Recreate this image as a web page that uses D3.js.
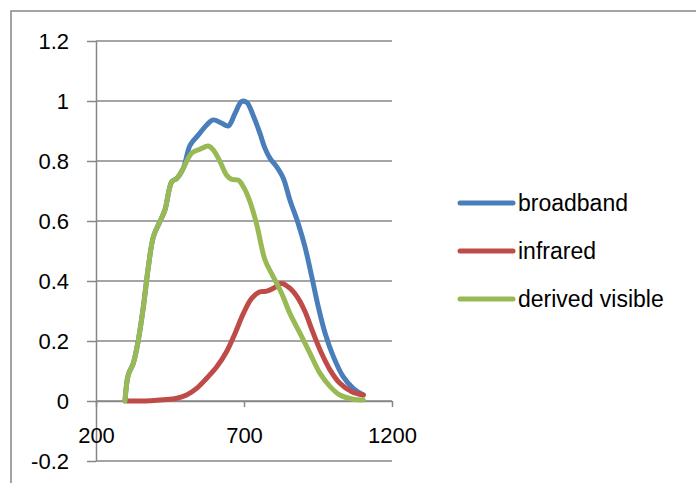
<!doctype html>
<html>

<head>
  <meta charset="utf-8">
  <title>Broadband / Infrared</title>
  <script src="https://d3js.org/d3.v7.min.js"></script>
  <style>
    body {
      margin: 0;
      background: white;
    }

    text {
      font-family: 'Liberation Sans', Arial, sans-serif;
      font-size: 22px;
      fill: black;
    }
  </style>
</head>

<body>
  <svg width="696" height="483"></svg>
  <script>
    var seriesNames = ["broadband", "infrared", "derived visible"];
    var seriesColors = ["#4a7ebb", "#be4b48", "#98b954"];

    var xTicks = [200, 700, 1200];
    var yTicks = [-0.2, 0, 0.2, 0.4, 0.6, 0.8, 1, 1.2];

    // wavelength, value
    var broadband = [
      [298, 0], [309, 0.087], [326, 0.126], [343, 0.203], [360, 0.314], [377, 0.448],
      [394, 0.548], [416, 0.598], [433, 0.637], [456, 0.731], [473, 0.742], [495, 0.776],
      [518, 0.853], [546, 0.887], [574, 0.92], [596, 0.937], [625, 0.926], [647, 0.917],
      [670, 0.959], [692, 0.998], [709, 0.996], [731, 0.952], [754, 0.892], [771, 0.842],
      [788, 0.809], [810, 0.781], [833, 0.742], [855, 0.67], [883, 0.592], [906, 0.514],
      [929, 0.414], [951, 0.314], [974, 0.226], [1002, 0.148], [1035, 0.081], [1069, 0.042],
      [1103, 0.02]
    ];

    var infrared = [
      [305, 0], [382, 0.001], [473, 0.009], [506, 0.02], [540, 0.042], [574, 0.076],
      [608, 0.114], [641, 0.164], [670, 0.226], [698, 0.292], [726, 0.342], [754, 0.364],
      [777, 0.366], [799, 0.376], [827, 0.392], [855, 0.376], [883, 0.342], [906, 0.298],
      [934, 0.226], [962, 0.159], [991, 0.103], [1024, 0.059], [1064, 0.031], [1103, 0.02]
    ];

    var derivedVisible = [
      [298, 0], [309, 0.087], [326, 0.126], [343, 0.203], [360, 0.314], [377, 0.448],
      [394, 0.548], [416, 0.598], [433, 0.637], [456, 0.731], [473, 0.742], [495, 0.776],
      [523, 0.826], [551, 0.839], [579, 0.85], [596, 0.837], [619, 0.798], [641, 0.753],
      [658, 0.739], [681, 0.736], [698, 0.714], [720, 0.665], [743, 0.588], [771, 0.47],
      [799, 0.414], [827, 0.359], [855, 0.292], [889, 0.226], [923, 0.159], [957, 0.092],
      [991, 0.048], [1024, 0.02], [1069, 0.006], [1103, 0.003]
    ];

    var allSeries = [broadband, infrared, derivedVisible];

    var svg = d3.select("svg");
    var gridColor = "#878787";

    var x = d3.scaleLinear().domain([200, 1200]).range([96, 392]);
    var y = d3.scaleLinear().domain([-0.2, 1.2]).range([461, 41]);

    // outer chart frame (runs off the page on the right and bottom)
    svg.append("rect")
      .attr("x", 11)
      .attr("y", 11)
      .attr("width", 720)
      .attr("height", 520)
      .attr("fill", "none")
      .attr("stroke", gridColor)
      .attr("stroke-width", 1.5)

    // gridlines
    svg.append("g")
      .selectAll("line")
      .data(yTicks)
      .enter()
      .append("line")
      .attr("x1", x(200))
      .attr("x2", x(1200))
      .attr("y1", d => y(d))
      .attr("y2", d => y(d))
      .attr("stroke", gridColor)
      .attr("stroke-width", 1.5)

    var yAxis = svg.append("g")
      .attr("transform", "translate(" + x(200) + ",0)")
      .call(d3.axisLeft(y).tickValues(yTicks).tickSize(9).tickSizeOuter(0).tickPadding(18)
        .tickFormat(d => String(+d.toFixed(1))));

    var xAxis = svg.append("g")
      .attr("transform", "translate(0," + y(0) + ")")
      .call(d3.axisBottom(x).tickValues(xTicks).tickSize(6).tickSizeOuter(0).tickPadding(20)
        .tickFormat(d => String(d)));

    [yAxis, xAxis].forEach(function (g) {
      g.select(".domain").attr("stroke", gridColor).attr("stroke-width", 1.5);
      g.selectAll(".tick line").attr("stroke", gridColor).attr("stroke-width", 1.5);
      g.selectAll("text").attr("font-size", 22).attr("font-family", "'Liberation Sans', Arial, sans-serif").attr("fill", "black");
    });

    var line = d3.line()
      .x(d => x(d[0]))
      .y(d => y(d[1]))
      .curve(d3.curveCatmullRom.alpha(0.5));

    // series order like the spreadsheet: derived visible ends up on top
    allSeries.forEach(function (s, i) {
      svg.append("path")
        .datum(s)
        .attr("d", line)
        .attr("fill", "none")
        .attr("stroke", seriesColors[i])
        .attr("stroke-width", 5)
        .attr("stroke-linecap", "round")
        .attr("stroke-linejoin", "round")
    });

    var legend = svg.append("g")
      .selectAll("g")
      .data(seriesNames)
      .enter()
      .append("g")
      .attr("transform", (d, i) => "translate(0," + (203 + i * 48) + ")");

    legend.append("line")
      .attr("x1", 460)
      .attr("x2", 513)
      .attr("stroke", (d, i) => seriesColors[i])
      .attr("stroke-width", 5)
      .attr("stroke-linecap", "round")

    legend.append("text")
      .attr("x", 518)
      .attr("dy", "0.35em")
      .style("font-size", "23px")
      .text(d => d)
  </script>
</body>

</html>
